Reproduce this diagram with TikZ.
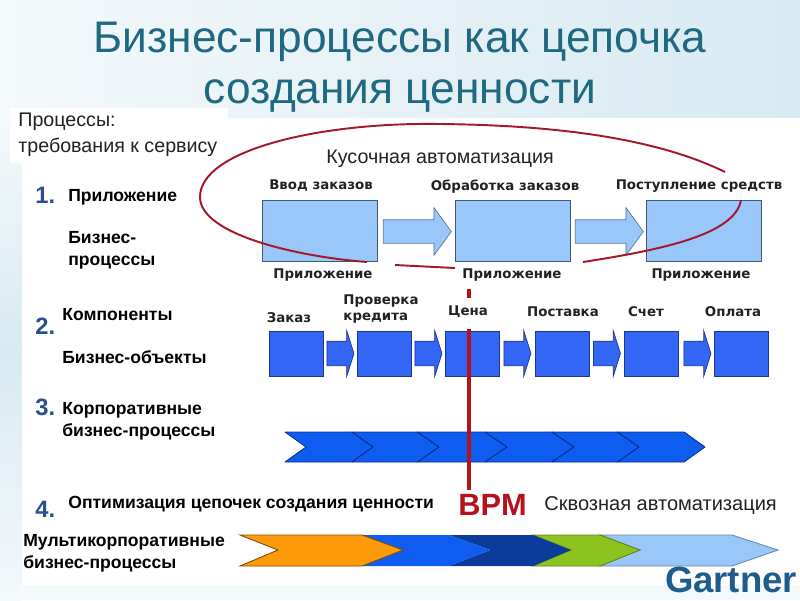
\documentclass[tikz,border=0pt]{standalone}
\usepackage{fontspec}
\setmainfont{Liberation Sans}
\newfontfamily\verd{DejaVu Sans}
\usetikzlibrary{shapes.arrows}
\definecolor{titleteal}{HTML}{1F6A80}
\definecolor{paleback}{HTML}{D8EAF3}
\definecolor{palelight}{HTML}{F4F9FB}
\definecolor{lightbox}{HTML}{99C7FA}
\definecolor{midbox}{HTML}{3366F5}
\definecolor{chevblue}{HTML}{0F5CF0}
\definecolor{bpmred}{HTML}{B5121B}
\definecolor{ovalred}{HTML}{A5182A}
\definecolor{numblue}{HTML}{2A4E8F}
\definecolor{gartblue}{HTML}{1F5C8C}
\definecolor{darktext}{HTML}{222222}
\definecolor{orangechev}{HTML}{FF9A0A}
\definecolor{greenchev}{HTML}{8DC21F}
\definecolor{darkchev}{HTML}{0B3C9C}
\tikzset{
  titletext/.style={text=titleteal,font=\fontsize{25.2}{28}\selectfont,anchor=base,inner sep=0},
  plaintext/.style={text=darktext,font=\fontsize{11.2}{13.5}\selectfont,anchor=west,inner sep=0,align=left},
  sidetext/.style={text=black,font=\fontsize{10}{12.4}\selectfont\bfseries,anchor=west,inner sep=0,align=left},
  boxtext/.style={text=darktext,font=\verd\fontsize{7.6}{9.5}\selectfont\bfseries,anchor=center,inner sep=0,align=left},
  numtext/.style={text=numblue,font=\fontsize{13.5}{14}\selectfont\bfseries,anchor=west,inner sep=0},
  lightsq/.style={draw=black!55!lightbox,fill=lightbox,line width=0.4pt,minimum width=2.3cm,minimum height=1.22cm,inner sep=0},
  midsq/.style={draw=black!45!midbox,fill=midbox,line width=0.4pt,minimum width=1.08cm,minimum height=0.9cm,inner sep=0},
  lightarrow/.style={single arrow,draw=black!40!lightbox,fill=lightbox,line width=0.4pt,minimum height=1.36cm,
    text height=0.23cm,text depth=0.23cm,text width=0pt,
    single arrow head extend=0.24cm,single arrow tip angle=108,inner sep=0},
  midarrow/.style={single arrow,draw=black!45!midbox,fill=midbox,line width=0.4pt,minimum height=0.54cm,
    text height=0.24cm,text depth=0.24cm,text width=0pt,
    single arrow head extend=0.21cm,single arrow tip angle=145,inner sep=0},
  chevron/.style={draw=black!45!chevblue,fill=chevblue,line width=0.5pt,line join=round},
  oval/.style={draw=ovalred,line width=1.1pt},
}
\begin{document}
\begin{tikzpicture}[x=0.02cm,y=-0.02cm]
\useasboundingbox (0,0) rectangle (800,600);
% background
\shade[left color=palelight,right color=paleback] (0,0) rectangle (800,118);
\shade[top color=palelight,bottom color=paleback] (0,118) rectangle (22,350);
\shade[top color=paleback,bottom color=palelight] (0,350) rectangle (22,600);
\fill[palelight] (22,585) rectangle (800,600);
\fill[white] (22,118) rectangle (800,585);
\fill[white] (10,108) rectangle (228,163);
% title
\node[titletext] (title1) at (400,52) {Бизнес-процессы как цепочка};
\node[titletext] (title2) at (400,103) {создания ценности};
\node[plaintext] (proc1) at (18,122) {Процессы:};
\node[plaintext] (proc2) at (18,147) {требования к сервису};
\node[plaintext] (kusoch) at (326,159) {Кусочная автоматизация};
% row 1
\node[numtext] (num1) at (35,195) {1.};
\node[sidetext] (pril) at (68,197) {Приложение};
\node[sidetext] (biz) at (68,250) {Бизнес-\\процессы};
\node[lightsq] (box1) at (319.5,230.5) {};
\node[lightsq] (box2) at (512.5,230.5) {};
\node[lightsq] (box3) at (704,230.5) {};
\node[lightarrow] (arr1) at (413,231.5) {};
\node[lightarrow] (arr2) at (605,231.5) {};
\node[boxtext] (vvod) at (321,186) {Ввод заказов};
\node[boxtext] (obrab) at (505,187) {Обработка заказов};
\node[boxtext] (post) at (699,186) {Поступление средств};
\node[boxtext] (pr1) at (323,275) {Приложение};
\node[boxtext] (pr2) at (512,275) {Приложение};
\node[boxtext] (pr3) at (701,275) {Приложение};
% oval
\draw[oval] (725,172) .. controls (650,135) and (540,125) .. (440,124) .. controls (320,122) and (200,150) .. (200,197) .. controls (200,235) and (300,257) .. (367,262);
\draw[oval] (395,265) -- (455,268);
\draw[oval] (583,262) .. controls (660,250) and (735,235) .. (741,200);
% row 2
\node[numtext] (num2) at (35,326) {2.};
\node[sidetext] (komp) at (62,315) {Компоненты};
\node[sidetext] (bizob) at (62,357) {Бизнес-объекты};
\node[midsq] (sq1) at (296,353.5) {};
\node[midsq] (sq2) at (384.5,353.5) {};
\node[midsq] (sq3) at (472,353.5) {};
\node[midsq] (sq4) at (562,353.5) {};
\node[midsq] (sq5) at (651.5,353.5) {};
\node[midsq] (sq6) at (741,353.5) {};
\node[midarrow] (ar1) at (338.5,353.5) {};
\node[midarrow] (ar2) at (426.5,353.5) {};
\node[midarrow] (ar3) at (515.5,353.5) {};
\node[midarrow] (ar4) at (605,353.5) {};
\node[midarrow] (ar5) at (695.5,353.5) {};
\node[boxtext] (zakaz) at (289,318) {Заказ};
\node[boxtext] (prov) at (381,309) {Проверка\\кредита};
\node[boxtext] (cena) at (468,312) {Цена};
\node[boxtext] (postav) at (563,312) {Поставка};
\node[boxtext] (schet) at (646,312) {Счет};
\node[boxtext] (opl) at (733,312) {Оплата};
% row 3
\node[numtext] (num3) at (35,407) {3.};
\node[sidetext] (korp) at (62,421) {Корпоративные\\бизнес-процессы};
\draw[chevron] (285,432) -- (352,432) -- (373,447) -- (352,462) -- (285,462) -- (306,447) -- cycle;
\draw[chevron] (352,432) -- (417.5,432) -- (439,447) -- (417.5,462) -- (352,462) -- (373,447) -- cycle;
\draw[chevron] (417.5,432) -- (485,432) -- (507,447) -- (485,462) -- (417.5,462) -- (439,447) -- cycle;
\draw[chevron] (485,432) -- (552,432) -- (574,447) -- (552,462) -- (485,462) -- (507,447) -- cycle;
\draw[chevron] (552,432) -- (617.5,432) -- (639,447) -- (617.5,462) -- (552,462) -- (574,447) -- cycle;
\draw[chevron] (617.5,432) -- (684,432) -- (705,447) -- (684,462) -- (617.5,462) -- (639,447) -- cycle;
% bpm line
\fill[bpmred] (466.5,289) rectangle (471,298);
\fill[bpmred] (466.5,329) rectangle (471,490);
\node[anchor=center,inner sep=0,text=bpmred,font=\fontsize{17.5}{19}\selectfont\bfseries] (bpm) at (492.5,505) {BPM};
\node[plaintext,font=\fontsize{11.4}{13}\selectfont] (skv) at (544,505) {Сквозная автоматизация};
% row 4
\node[numtext] (num4) at (35,509) {4.};
\node[sidetext] (optim) at (68,504) {Оптимизация цепочек создания ценности};
\node[sidetext] (multi) at (23,553) {Мультикорпоративные\\бизнес-процессы};
\draw[draw=black!30!lightbox,fill=lightbox,line width=0.5pt] (600,535) -- (732,535) -- (778,550) -- (732,566) -- (600,566) -- (640,550) -- cycle;
\draw[draw=black!30!greenchev,fill=greenchev,line width=0.5pt] (533,535) -- (600,535) -- (640,550) -- (600,566) -- (533,566) -- (571,550) -- cycle;
\fill[darkchev] (449,535) -- (533,535) -- (571,550) -- (533,566) -- (449,566) -- (490,550) -- cycle;
\fill[chevblue] (362,535) -- (449,535) -- (490,550) -- (449,566) -- (362,566) -- (403,550) -- cycle;
\draw[draw=black!50!orangechev,fill=orangechev,line width=0.5pt] (240,535) -- (362,535) -- (403,550) -- (362,566) -- (240,566) -- (278,550) -- cycle;
\node[anchor=center,inner sep=0,text=gartblue,font=\fontsize{20.8}{23}\selectfont\bfseries] (gart) at (731,580) {Gartner};
\end{tikzpicture}
\end{document}
